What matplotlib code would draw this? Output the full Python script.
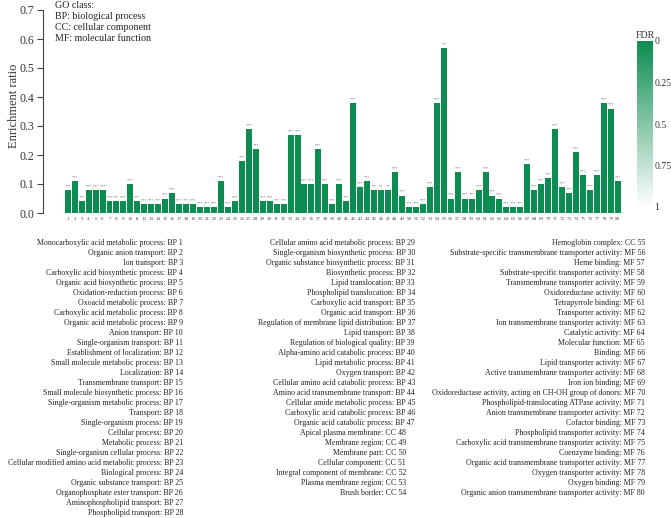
import numpy as np
import matplotlib
matplotlib.use("Agg")
import matplotlib.pyplot as plt
from matplotlib.colors import LinearSegmentedColormap
from matplotlib.colorbar import ColorbarBase
from matplotlib.colors import Normalize

plt.rcParams['font.family'] = ['Liberation Serif', 'DejaVu Serif']

# numéros des termes GO et leur ratio d'enrichissement
terms = list(range(1, 81))
ratios = [0.08, 0.11, 0.04, 0.08, 0.08, 0.08, 0.04, 0.04, 0.04, 0.10,
          0.04, 0.03, 0.03, 0.03, 0.05, 0.07, 0.03, 0.03, 0.03, 0.02,
          0.02, 0.02, 0.11, 0.02, 0.04, 0.18, 0.29, 0.22, 0.04, 0.04,
          0.03, 0.03, 0.27, 0.27, 0.10, 0.10, 0.22, 0.10, 0.03, 0.10,
          0.04, 0.38, 0.09, 0.11, 0.08, 0.08, 0.08, 0.14, 0.06, 0.02,
          0.02, 0.03, 0.09, 0.38, 0.57, 0.05, 0.14, 0.05, 0.05, 0.08,
          0.14, 0.06, 0.05, 0.02, 0.02, 0.02, 0.17, 0.08, 0.10, 0.12,
          0.29, 0.09, 0.07, 0.21, 0.13, 0.08, 0.13, 0.38, 0.36, 0.11]
fdr = [0.0] * 80
stars = ['***'] * 80
stars[44] = '**'
stars[45] = '**'
stars[46] = '**'
stars[54] = '**'

col1_labels = [
    "Monocarboxylic acid metabolic process: BP 1",
    "Organic anion transport: BP 2",
    "Ion transport: BP 3",
    "Carboxylic acid biosynthetic process: BP 4",
    "Organic acid biosynthetic process: BP 5",
    "Oxidation-reduction process: BP 6",
    "Oxoacid metabolic process: BP 7",
    "Carboxylic acid metabolic process: BP 8",
    "Organic acid metabolic process: BP 9",
    "Anion transport: BP 10",
    "Single-organism transport: BP 11",
    "Establishment of localization: BP 12",
    "Small molecule metabolic process: BP 13",
    "Localization: BP 14",
    "Transmembrane transport: BP 15",
    "Small molecule biosynthetic process: BP 16",
    "Single-organism metabolic process: BP 17",
    "Transport: BP 18",
    "Single-organism process: BP 19",
    "Cellular process: BP 20",
    "Metabolic process: BP 21",
    "Single-organism cellular process: BP 22",
    "Cellular modified amino acid metabolic process: BP 23",
    "Biological process: BP 24",
    "Organic substance transport: BP 25",
    "Organophosphate ester transport: BP 26",
    "Aminophospholipid transport: BP 27",
    "Phospholipid transport: BP 28",
]
col2_bp_labels = [
    "Cellular amino acid metabolic process: BP 29",
    "Single-organism biosynthetic process: BP 30",
    "Organic substance biosynthetic process: BP 31",
    "Biosynthetic process: BP 32",
    "Lipid translocation: BP 33",
    "Phospholipid translocation: BP 34",
    "Carboxylic acid transport: BP 35",
    "Organic acid transport: BP 36",
    "Regulation of membrane lipid distribution: BP 37",
    "Lipid transport: BP 38",
    "Regulation of biological quality: BP 39",
    "Alpha-amino acid catabolic process: BP 40",
    "Lipid metabolic process: BP 41",
    "Oxygen transport: BP 42",
    "Cellular amino acid catabolic process: BP 43",
    "Amino acid transmembrane transport: BP 44",
    "Cellular amide metabolic process: BP 45",
    "Carboxylic acid catabolic process: BP 46",
    "Organic acid catabolic process: BP 47",
]
col2_cc_labels = [
    "Apical plasma membrane: CC 48",
    "Membrane region: CC 49",
    "Membrane part: CC 50",
    "Cellular component: CC 51",
    "Integral component of membrane: CC 52",
    "Plasma membrane region: CC 53",
    "Brush border: CC 54",
]
col3_labels = [
    "Hemoglobin complex: CC 55",
    "Substrate-specific transmembrane transporter activity: MF 56",
    "Heme binding: MF 57",
    "Substrate-specific transporter activity: MF 58",
    "Transmembrane transporter activity: MF 59",
    "Oxidoreductase activity: MF 60",
    "Tetrapyrrole binding: MF 61",
    "Transporter activity: MF 62",
    "Ion transmembrane transporter activity: MF 63",
    "Catalytic activity: MF 64",
    "Molecular function: MF 65",
    "Binding: MF 66",
    "Lipid transporter activity: MF 67",
    "Active transmembrane transporter activity: MF 68",
    "Iron ion binding: MF 69",
    "Oxidoreductase activity, acting on CH-OH group of donors: MF 70",
    "Phospholipid-translocating ATPase activity: MF 71",
    "Anion transmembrane transporter activity: MF 72",
    "Cofactor binding: MF 73",
    "Phospholipid transporter activity: MF 74",
    "Carboxylic acid transmembrane transporter activity: MF 75",
    "Coenzyme binding: MF 76",
    "Organic acid transmembrane transporter activity: MF 77",
    "Oxygen transporter activity: MF 78",
    "Oxygen binding: MF 79",
    "Organic anion transmembrane transporter activity: MF 80",
]

W, H = 671, 518
fig = plt.figure(figsize=(W / 100, H / 100), dpi=100)

cmap = LinearSegmentedColormap.from_list("fdr", ["#0c8c50", "#ffffff"])
norm = Normalize(0, 1)

ax = fig.add_axes([43 / W, 1 - 213 / H, (622 - 43) / W, 203 / H])
ax.bar(terms, ratios, width=0.86, color=[cmap(norm(f)) for f in fdr])
for t, r, s in zip(terms, ratios, stars):
    ax.text(t, r + 0.006, s, ha='center', va='bottom', fontsize=3, color='#777777')

ax.set_xlim(-2.55, 80.6)
ax.set_ylim(0, 0.7)
ax.set_yticks(np.arange(0, 0.71, 0.1))
ax.set_yticklabels([f"{v:.1f}" for v in np.arange(0, 0.71, 0.1)], fontsize=8.5, color='#333333')
ax.set_xticks(terms)
ax.set_xticklabels([str(t) for t in terms], fontsize=3.6, color='#444444')
ax.tick_params(axis='x', length=0, pad=3)
ax.tick_params(axis='y', length=4, width=0.8, color='#444444', pad=2)
for side in ['top', 'right', 'bottom']:
    ax.spines[side].set_visible(False)
ax.spines['left'].set_color('#444444')
fig.text(14 / W, 1 - 106 / H, "Enrichment ratio", rotation=90, ha='center', va='center',
         fontsize=9, color='#333333')

fig.text(55 / W, 1 - 1 / H, "GO class:\nBP: biological process\nCC: cellular component\nMF: molecular function",
         ha='left', va='top', fontsize=7.2, linespacing=1.3, color='#222222')

# barre de couleur FDR
cax = fig.add_axes([637 / W, 1 - 207 / H, 16 / W, 166 / H])
cb = ColorbarBase(cax, cmap=cmap, norm=norm, orientation='vertical')
cb.outline.set_visible(False)
cax.invert_yaxis()
cb.set_ticks([0, 0.25, 0.5, 0.75, 1])
cb.set_ticklabels(["0", "0.25", "0.5", "0.75", "1"])
cax.tick_params(length=0, labelsize=7, pad=1, colors='#333333')
cax.set_title("FDR", fontsize=7.2, pad=2, color='#333333')

# libellés des termes GO
y0 = 1 - 243 / H
dy = 10.0 / H
fs = 5.7
for i, lab in enumerate(col1_labels):
    fig.text(183 / W, y0 - i * dy, lab, ha='right', va='center', fontsize=fs, color='#222222')
for i, lab in enumerate(col2_bp_labels):
    fig.text(415 / W, y0 - i * dy, lab, ha='right', va='center', fontsize=fs, color='#222222')
for i, lab in enumerate(col2_cc_labels):
    fig.text(406 / W, y0 - (i + len(col2_bp_labels)) * dy, lab, ha='right', va='center', fontsize=fs, color='#222222')
for i, lab in enumerate(col3_labels):
    fig.text(645 / W, y0 - i * dy, lab, ha='right', va='center', fontsize=fs, color='#222222')

fig.savefig("out.png", dpi=100)
